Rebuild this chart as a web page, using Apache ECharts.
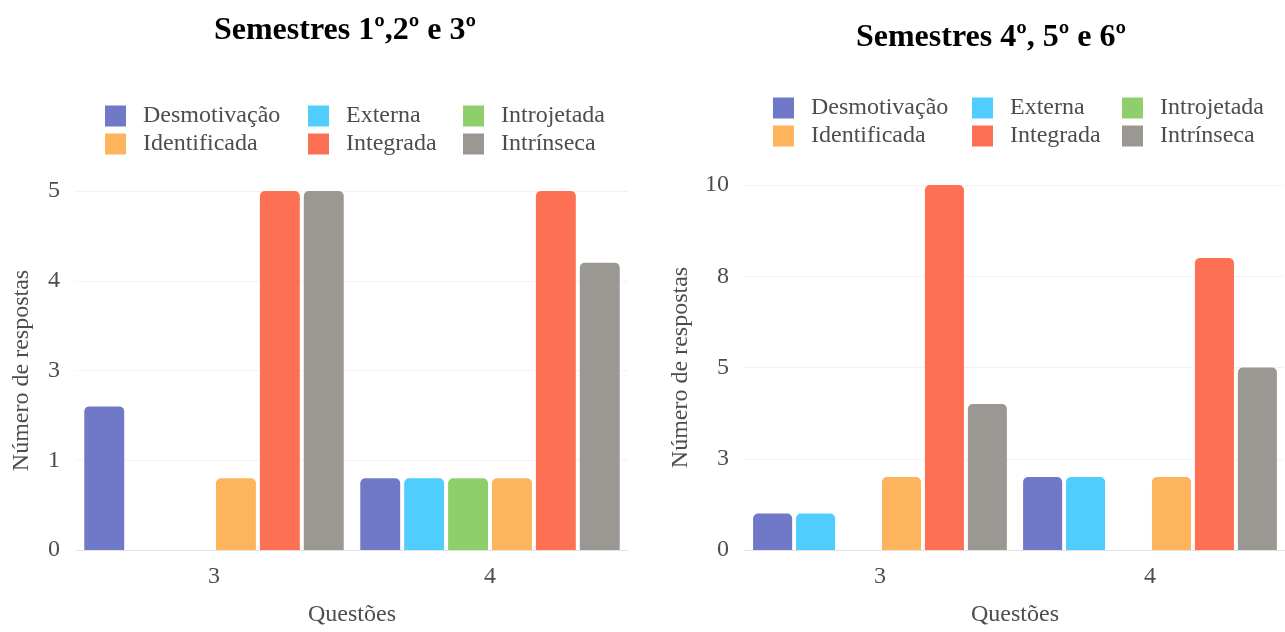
<!DOCTYPE html>
<html>
<head>
<meta charset="utf-8">
<script src="https://cdn.jsdelivr.net/npm/echarts@6/dist/echarts.min.js"></script>
<style>
  html, body { margin: 0; padding: 0; background: #fff; }
  #chart { width: 1285px; height: 632px; }
</style>
</head>
<body>
<div id="chart"></div>
<script>
// Questions on the x axis
const questoes = ['3', '4'];

// Motivation types (legend order)
const tipos = ['Desmotivação', 'Externa', 'Introjetada', 'Identificada', 'Integrada', 'Intrínseca'];
const cores = ['#7078c8', '#4fcdfd', '#8ecf6c', '#fdb45d', '#fe7054', '#9b9893'];

// Semesters 1–3: answers per type, [question 3, question 4]
const sem123Desmotivacao = [2, 1];
const sem123Externa      = [0, 1];
const sem123Introjetada  = [0, 1];
const sem123Identificada = [1, 1];
const sem123Integrada    = [5, 5];
const sem123Intrinseca   = [5, 4];

// Semesters 4–6: answers per type, [question 3, question 4]
const sem456Desmotivacao = [1, 2];
const sem456Externa      = [1, 2];
const sem456Introjetada  = [0, 0];
const sem456Identificada = [2, 2];
const sem456Integrada    = [10, 8];
const sem456Intrinseca   = [4, 5];

// Value axis ranges (ticks shown rounded)
const eixo123 = { max: 5, interval: 1.25 };
const eixo456 = { max: 10, interval: 2.5 };

const sem123 = [sem123Desmotivacao, sem123Externa, sem123Introjetada, sem123Identificada, sem123Integrada, sem123Intrinseca];
const sem456 = [sem456Desmotivacao, sem456Externa, sem456Introjetada, sem456Identificada, sem456Integrada, sem456Intrinseca];

const FONT = '"Liberation Serif", "Times New Roman", serif';
const TXT = '#4d4d4d';

function xAxisFor(gridIndex) {
  return {
    type: 'category', gridIndex, data: questoes,
    name: 'Questões', nameLocation: 'middle', nameGap: 53,
    nameTextStyle: { fontFamily: FONT, fontSize: 24, color: TXT },
    axisLine: { show: true, lineStyle: { color: '#e3e3e3', width: 1 } },
    axisTick: { show: false },
    axisLabel: { fontFamily: FONT, fontSize: 24, color: TXT, margin: 15 },
    splitLine: { show: false }
  };
}

function yAxisFor(gridIndex, range, nameGap) {
  return {
    type: 'value', gridIndex, min: 0, max: range.max, interval: range.interval,
    name: 'Número de respostas', nameLocation: 'middle', nameGap,
    nameRotate: 90,
    nameTextStyle: { fontFamily: FONT, fontSize: 24, color: TXT },
    axisLine: { show: false }, axisTick: { show: false },
    axisLabel: {
      fontFamily: FONT, fontSize: 24, color: TXT, margin: 16,
      formatter: v => String(Math.round(v))
    },
    splitLine: { show: true, lineStyle: { color: '#e6e6e6', type: 'dotted', width: 1 } }
  };
}

function seriesFor(values, axisIndex) {
  return tipos.map((nome, i) => ({
    name: nome, type: 'bar',
    xAxisIndex: axisIndex, yAxisIndex: axisIndex,
    data: values[i].map(v => (v === 0 ? null : v)),
    barGap: '10%', barCategoryGap: '6%',
    itemStyle: { color: cores[i], borderRadius: [5, 5, 0, 0] },
    emphasis: { disabled: true }
  }));
}

// Legends laid out as three columns of two items
const colunas = [[tipos[0], tipos[3]], [tipos[1], tipos[4]], [tipos[2], tipos[5]]];
function legendsFor(lefts, top) {
  return colunas.map((col, k) => ({
    data: col, orient: 'vertical', left: lefts[k], top,
    icon: 'rect', itemWidth: 21, itemHeight: 21, itemGap: 4,
    selectedMode: false,
    textStyle: { fontFamily: FONT, fontSize: 24, color: TXT, padding: [0, 0, 0, 12] }
  }));
}

const chart = echarts.init(document.getElementById('chart'), null, { renderer: 'canvas' });
chart.setOption({
  animation: false,
  backgroundColor: '#ffffff',
  title: [
    { text: 'Semestres 1º,2º e 3º', left: 340, top: 10, textAlign: 'center',
      textStyle: { fontFamily: FONT, fontSize: 32, fontWeight: 'bold', color: '#000' } },
    { text: 'Semestres 4º, 5º e 6º', left: 986, top: 17, textAlign: 'center',
      textStyle: { fontFamily: FONT, fontSize: 32, fontWeight: 'bold', color: '#000' } }
  ],
  legend: [...legendsFor([100, 303, 458], 99), ...legendsFor([768, 967, 1117], 91)],
  grid: [
    { left: 76, top: 191, width: 552, height: 364 },
    { left: 745, top: 185, width: 540, height: 370 }
  ],
  xAxis: [xAxisFor(0), xAxisFor(1)],
  yAxis: [yAxisFor(0, eixo123, 42), yAxisFor(1, eixo456, 52)],
  series: [...seriesFor(sem123, 0), ...seriesFor(sem456, 1)]
});
</script>
</body>
</html>
